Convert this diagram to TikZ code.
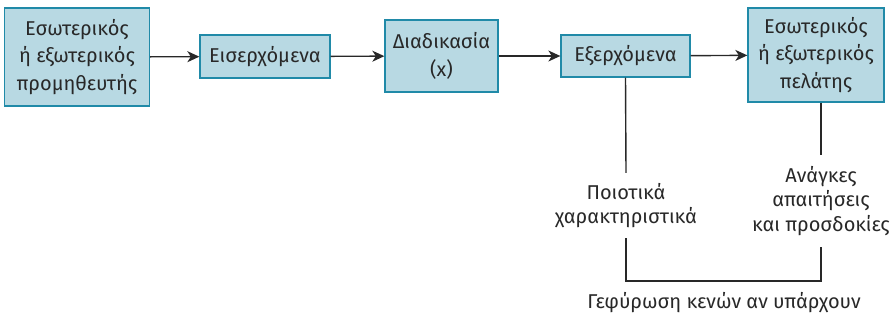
\documentclass[tikz,border=0pt]{standalone}
\usepackage{fontspec}
\setmainfont{Fira Sans}
\usetikzlibrary{arrows.meta}
\definecolor{boxfill}{RGB}{184,217,227}
\definecolor{boxline}{RGB}{32,138,168}
\definecolor{wire}{RGB}{40,40,40}
\tikzset{
  stage/.style={draw=boxline,fill=boxfill,line width=1.3pt,align=center,inner sep=0pt,
    text=wire,font=\fontsize{20}{27.5}\selectfont},
  remark/.style={align=center,inner xsep=0pt,text=wire,font=\fontsize{20}{24.5}\selectfont},
  flow/.style={draw=wire,line width=1.4pt,-{Stealth[length=12pt,width=11pt,inset=3.5pt]}},
  link/.style={draw=wire,line width=1.4pt}
}

\begin{document}
\begin{tikzpicture}[x=1pt,y=-1pt]
            \useasboundingbox (0,0) rectangle (893,320);
            \node[stage,minimum width=145pt,minimum height=98pt] (sup) at (77,57) {Εσωτερικός\\ή εξωτερικός\\προμηθευτής};
            \node[stage,minimum width=130pt,minimum height=43pt] (inp) at (265,56.5) {Εισερχόμενα};
            \node[stage,minimum width=113pt,minimum height=72pt] (proc) at (441.5,56) {Διαδικασία\\(x)};
            \node[stage,minimum width=129pt,minimum height=42pt] (outp) at (625.5,56) {Εξερχόμενα};
            \node[stage,minimum width=136pt,minimum height=94pt] (cust) at (816,55) {Εσωτερικός\\ή εξωτερικός\\πελάτης};
            \draw[flow] (sup) -- (inp);
            \draw[flow] (inp) -- (proc);
            \draw[flow] (proc) -- (outp);
            \draw[flow] (outp) -- (cust);
            % feedback below the outputs
            \node[remark,minimum height=65pt] (qual) at (626,205.5) {Ποιοτικά\\χαρακτηριστικά};
            \node[remark,minimum height=92pt] (needs) at (821,201) {Ανάγκες\\απαιτήσεις\\και προσδοκίες};
            \coordinate (gapline) at (724,281);
            \node[remark] (gap) at (724,303) {Γεφύρωση κενών αν υπάρχουν};
            \draw[link] (outp.south) -- (qual.north);
            \draw[link] (cust.south -| needs.north) -- (needs.north);
            \draw[link] (qual.south) |- (gapline) -| (needs.south);
        \end{tikzpicture}
\end{document}
